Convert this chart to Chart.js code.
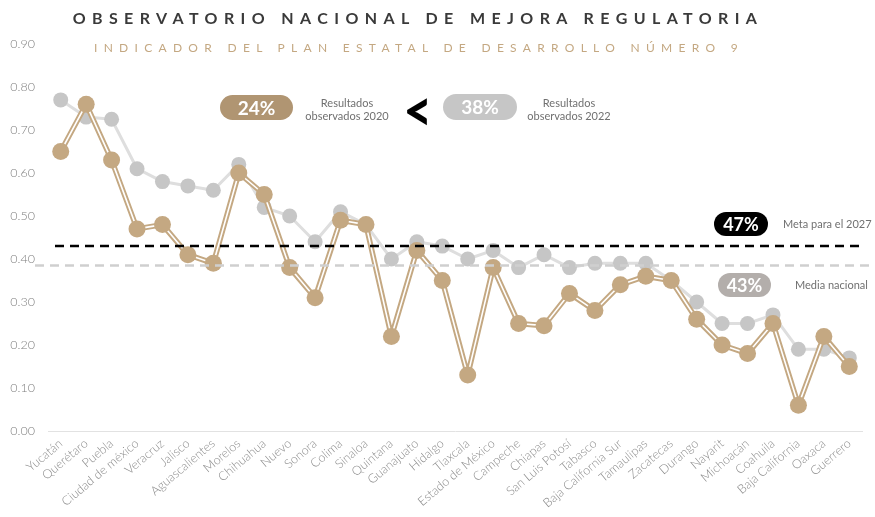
<!DOCTYPE html>
<html>
<head>
<meta charset="utf-8">
<script src="https://cdn.jsdelivr.net/npm/chart.js@4.4.1/dist/chart.umd.min.js"></script>
<style>
  body { margin: 0; background: #fff; font-family: Lato, sans-serif; }
  #wrap { position: relative; width: 875px; height: 517px; overflow: hidden; }
  canvas { position: absolute; left: 0; top: 0; }
  .t { position: absolute; white-space: nowrap; }
  .title { left: 0; width: 836px; top: 8px; text-align: center; font-weight: 700; font-size: 16px; letter-spacing: 6.4px; color: #3a3a3a; }
  .sub { left: 0; width: 838px; top: 40px; text-align: center; font-size: 12px; letter-spacing: 6.3px; color: #c4a882; }
  .pill { position: absolute; border-radius: 14px; color: #fff; font-weight: 700; text-align: center; }
  .note { position: absolute; font-size: 11px; color: #707070; line-height: 12.5px; text-align: center; }
</style>
</head>
<body>
<div id="wrap">
  <canvas id="lineChart" width="875" height="517"></canvas>
  <div class="t title">OBSERVATORIO NACIONAL DE MEJORA REGULATORIA</div>
  <div class="t sub">INDICADOR DEL PLAN ESTATAL DE DESARROLLO NÚMERO 9</div>

  <div class="pill" style="left:220px;top:95px;width:73px;height:25px;line-height:25px;font-size:19px;background:#b09572;">24%</div>
  <div class="note" style="left:300px;top:97px;width:94px;">Resultados<br>observados 2020</div>
  <div class="t" style="left:401px;top:74px;font-size:58px;font-weight:900;color:#000;transform:scaleX(0.85);">&lt;</div>
  <div class="pill" style="left:443px;top:94px;width:74px;height:26px;line-height:26px;font-size:19px;background:#c6c6c6;">38%</div>
  <div class="note" style="left:521px;top:97px;width:96px;">Resultados<br>observados 2022</div>

  <div class="pill" style="left:714px;top:212px;width:54px;height:24px;line-height:24px;font-size:18px;background:#000;">47%</div>
  <div class="t" style="left:783px;top:217px;font-size:11px;color:#707070;">Meta para el 2027</div>
  <div class="pill" style="left:718px;top:273px;width:53px;height:24px;line-height:24px;font-size:18px;background:#b3aeab;">43%</div>
  <div class="t" style="left:795px;top:278px;font-size:11px;color:#707070;">Media nacional</div>
</div>
<script>
const ESTADOS = ['Yucatán', 'Querétaro', 'Puebla', 'Ciudad de méxico', 'Veracruz', 'Jalisco', 'Aguascalientes',
  'Morelos', 'Chihuahua', 'Nuevo', 'Sonora', 'Colima', 'Sinaloa', 'Quintana', 'Guanajuato', 'Hidalgo',
  'Tlaxcala', 'Estado de México', 'Campeche', 'Chiapas', 'San Luis Potosí', 'Tabasco', 'Baja California Sur',
  'Tamaulipas', 'Zacatecas', 'Durango', 'Nayarit', 'Michoacán', 'Coahuila', 'Baja California', 'Oaxaca', 'Guerrero'];
const RESULTADOS_2022 = [0.77, 0.73, 0.725, 0.61, 0.58, 0.57, 0.56, 0.62, 0.52, 0.50, 0.44, 0.51, 0.48, 0.40,
  0.44, 0.43, 0.40, 0.42, 0.38, 0.41, 0.38, 0.39, 0.39, 0.39, 0.35, 0.30, 0.25, 0.25, 0.27, 0.19, 0.19, 0.17];
const RESULTADOS_2020 = [0.65, 0.76, 0.63, 0.47, 0.48, 0.41, 0.39, 0.60, 0.55, 0.38, 0.31, 0.49, 0.48, 0.22,
  0.42, 0.35, 0.13, 0.38, 0.25, 0.245, 0.32, 0.28, 0.34, 0.36, 0.35, 0.26, 0.20, 0.18, 0.25, 0.06, 0.22, 0.15];
const Y_TICKS = [0, 0.1, 0.2, 0.3, 0.4, 0.5, 0.6, 0.7, 0.8, 0.9];
const META_LINEA = 0.43;
const MEDIA_LINEA = 0.385;

const GOLD = '#c4a882';
const GRAY_LINE = '#dedede';
const GRAY_DOT = '#c6c6c6';

// dashed reference lines, drawn on top of the series
const refLines = {
  id: 'refLines',
  afterDatasetsDraw(chart) {
    const { ctx, chartArea, scales } = chart;
    const draw = (value, color, x1, x2) => {
      const y = scales.y.getPixelForValue(value);
      ctx.save();
      ctx.strokeStyle = color;
      ctx.lineWidth = 2.5;
      ctx.setLineDash([9, 6]);
      ctx.beginPath();
      ctx.moveTo(x1, y);
      ctx.lineTo(x2, y);
      ctx.stroke();
      ctx.restore();
    };
    draw(META_LINEA, '#000', chartArea.left + 7, chartArea.right - 2);
    draw(MEDIA_LINEA, '#cfcfcf', chartArea.left - 13, chartArea.right + 13);
  }
};

const ctx = document.getElementById('lineChart').getContext('2d');
const lineChart = new Chart(ctx, {
  type: 'line',
  data: {
    labels: ESTADOS,
    datasets: [
      {
        data: RESULTADOS_2020,
        borderColor: GOLD,
        borderWidth: 5.5,
        borderJoinStyle: 'round',
        pointRadius: 0,
        tension: 0,
        order: 2
      },
      {
        data: RESULTADOS_2020,
        borderColor: '#fff',
        borderWidth: 1.6,
        borderJoinStyle: 'round',
        pointRadius: 8.5,
        pointBackgroundColor: GOLD,
        pointBorderWidth: 0,
        tension: 0,
        order: 1
      },
      {
        data: RESULTADOS_2022,
        borderColor: GRAY_LINE,
        borderWidth: 3,
        borderJoinStyle: 'round',
        pointRadius: 7.5,
        pointBackgroundColor: GRAY_DOT,
        pointBorderWidth: 0,
        tension: 0,
        order: 3
      }
    ]
  },
  options: {
    responsive: false,
    animation: false,
    layout: { padding: { top: 44, right: 13, left: 0, bottom: 0 } },
    plugins: { legend: { display: false }, tooltip: { enabled: false } },
    scales: {
      x: {
        offset: true,
        grid: { display: false, drawTicks: false },
        border: { color: '#e2e2e2', width: 1 },
        ticks: {
          minRotation: 40, maxRotation: 40, autoSkip: false, padding: 5,
          color: '#8a8a8a', font: { family: 'Lato', size: 12.5, weight: 300 }
        },
        afterFit: (axis) => { axis.height = 86; }
      },
      y: {
        min: 0, max: 0.9,
        grid: { display: false, drawTicks: false },
        border: { display: false },
        afterBuildTicks: (axis) => { axis.ticks = Y_TICKS.map(v => ({ value: v })); },
        ticks: {
          padding: 13, color: '#808080',
          font: { family: 'Lato', size: 12.5, weight: 300 },
          callback: (v) => v.toFixed(2)
        },
        afterFit: (axis) => { axis.width = 48; }
      }
    }
  },
  plugins: [refLines]
});
</script>
</body>
</html>
